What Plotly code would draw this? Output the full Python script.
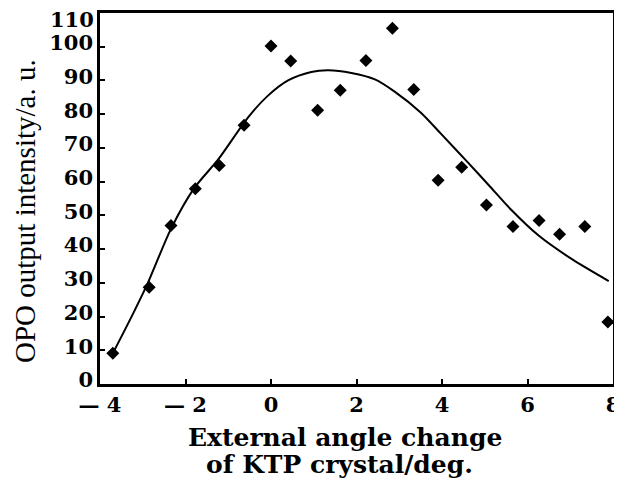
import plotly.graph_objects as go

# Measured data points
angle_pts = [-3.70, -2.85, -2.34, -1.77, -1.21, -0.63, 0.00, 0.46, 1.09, 1.62, 2.22, 2.84, 3.34, 3.91, 4.46, 5.04, 5.66, 6.27, 6.75, 7.34, 7.88]
intensity_pts = [9.1, 28.7, 47.0, 57.9, 64.8, 76.7, 100.2, 95.8, 81.2, 87.1, 95.9, 105.5, 87.3, 60.4, 64.3, 53.1, 46.7, 48.5, 44.4, 46.7, 18.4]

# Fitted curve
curve_x = [-3.70, -3.30, -2.88, -2.34, -1.80, -1.24, -0.54, -0.07, 0.40, 0.94, 1.34, 1.88, 2.43, 2.90, 3.50, 3.99, 4.62, 5.09, 5.63, 6.26, 7.04, 7.90]
curve_y = [9.1, 19.0, 30.0, 46.0, 58.0, 66.5, 79.0, 85.5, 90.0, 92.5, 93.0, 92.2, 90.3, 86.6, 80.5, 74.0, 65.5, 59.0, 51.5, 44.0, 37.0, 30.5]

x_ticks = [-4, -2, 0, 2, 4, 6, 8]
x_ticktext = ["— 4", "— 2", "0", "2", "4", "6", "8"]
y_ticks = [0, 10, 20, 30, 40, 50, 60, 70, 80, 90, 100, 110]

x_title_1 = "<b>External angle change</b>"
x_title_2 = "<b>of KTP crystal/deg.</b>"
y_title = "OPO output intensity/a. u."

serif = "DejaVu Serif"
tickfont = dict(family=serif, size=21, weight="bold")

# page body has an 8px margin: figure is placed at (8, 8) in the window
OFF = 8
W, H = 622 - OFF, 484 - OFF
ML, MR, MT, MB = 92, 9, 5, 100
plot_w = W - ML - MR
plot_h = H - MT - MB


def px_to_paper(wx, wy):
    return ((wx - OFF - ML) / plot_w, (H - MB - (wy - OFF)) / plot_h)


fig = go.Figure()
fig.add_trace(go.Scatter(x=curve_x, y=curve_y, mode="lines",
                         line=dict(color="black", width=2, shape="spline", smoothing=0.8),
                         hoverinfo="skip", showlegend=False))
fig.add_trace(go.Scatter(x=angle_pts, y=intensity_pts, mode="markers",
                         marker=dict(symbol="diamond", size=10, color="black"),
                         showlegend=False))

x1, y1 = px_to_paper(345, 437)
x2, y2 = px_to_paper(339, 464)
xy, yy = px_to_paper(25, 211)

fig.update_layout(
    width=W, height=H,
    margin=dict(l=ML, r=MR, t=MT, b=MB),
    paper_bgcolor="white", plot_bgcolor="white",
    font=dict(family=serif, color="black", size=20),
    xaxis=dict(range=[-4, 8], tickvals=x_ticks, ticktext=x_ticktext,
               ticks="inside", ticklen=5, tickwidth=1.5, tickcolor="black",
               showline=True, linecolor="black", linewidth=2.5, mirror=True,
               showgrid=False, zeroline=False, automargin=False,
               tickfont=tickfont),
    yaxis=dict(range=[0, y_ticks[-1]], tickvals=y_ticks[:-1],
               ticks="inside", ticklen=5, tickwidth=1.5, tickcolor="black",
               showline=True, linecolor="black", linewidth=2.5, mirror=True,
               showgrid=False, zeroline=False, automargin=False,
               ticklabelshift=-4,
               tickfont=tickfont),
    annotations=[
        # top tick label (plotly drops it because it would touch the page edge)
        dict(text=str(y_ticks[-1]), x=0, y=y_ticks[-1], xref="paper", yref="y",
             xanchor="right", yanchor="middle", xshift=-4, yshift=-6,
             showarrow=False, font=tickfont),
        dict(text=x_title_1, x=x1, y=y1, xref="paper", yref="paper",
             xanchor="center", yanchor="middle",
             showarrow=False, font=dict(family=serif, size=25)),
        dict(text=x_title_2, x=x2, y=y2, xref="paper", yref="paper",
             xanchor="center", yanchor="middle",
             showarrow=False, font=dict(family=serif, size=25)),
        dict(text=y_title, x=xy, y=yy, xref="paper", yref="paper",
             xanchor="center", yanchor="middle", showarrow=False, textangle=-90,
             font=dict(family="Liberation Serif", size=29)),
    ],
)

fig.write_html("out.html")
